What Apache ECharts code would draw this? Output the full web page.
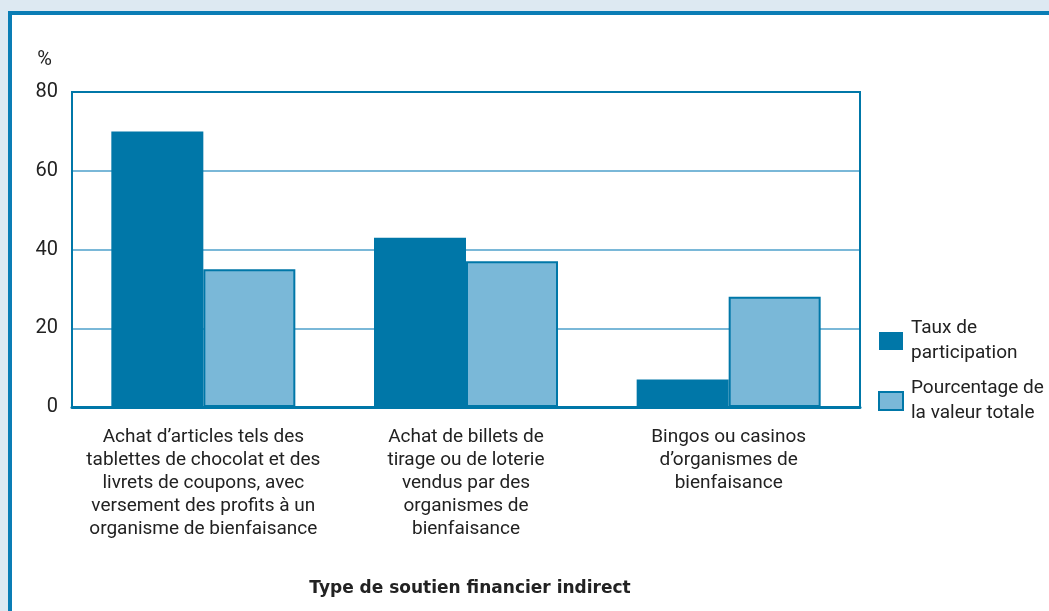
<!DOCTYPE html>
<html>
<head>
<meta charset="utf-8">
<script src="https://cdn.jsdelivr.net/npm/echarts@6/dist/echarts.min.js"></script>
<style>
  html, body { margin: 0; padding: 0; background: #dde9f2; }
  #chart { width: 1049px; height: 611px; }
</style>
</head>
<body>
<div id="chart"></div>
<script>
var categories = [
    'Achat d\u2019articles tels des\ntablettes de chocolat et des\nlivrets de coupons, avec\nversement des profits \u00e0 un\norganisme de bienfaisance',
    'Achat de billets de\ntirage ou de loterie\nvendus par des\norganismes de\nbienfaisance',
    'Bingos ou casinos\nd\u2019organismes de\nbienfaisance'
];
var seriesNames = ['Taux de\nparticipation', 'Pourcentage de\nla valeur totale'];
var participation = [70, 43, 7];
var valeurTotale = [35, 37, 28];
var yTicks = [0, 20, 40, 60, 80];

var font = 'Roboto, "Liberation Sans", sans-serif';
var dark = '#0077a8';
var light = '#7ab8d8';

var myChart = echarts.init(document.getElementById('chart'));

myChart.setOption({
    backgroundColor: '#dde9f2',
    animation: false,
    graphic: [
        {
            // cadre blanc avec bordure bleue
            type: 'rect',
            z: -10,
            shape: { x: 10, y: 13, width: 1060, height: 620 },
            style: { fill: '#ffffff', stroke: '#0a7db5', lineWidth: 4 }
        },
        {
            // bordure de la zone de tracé
            type: 'rect',
            z: 10,
            shape: { x: 72, y: 92, width: 1049 - 72 - 189, height: 611 - 92 - 204 },
            style: { fill: 'none', stroke: dark, lineWidth: 2 }
        }
    ],
    grid: { left: 72, top: 92, right: 189, bottom: 204 },
    legend: {
        orient: 'vertical',
        left: 873,
        top: 311,
        icon: 'rect',
        itemWidth: 24,
        itemHeight: 18,
        itemGap: 10,
        textStyle: { fontFamily: font, fontSize: 19, color: '#222', lineHeight: 25, padding: [0, 0, 0, 3] },
        data: seriesNames
    },
    xAxis: {
        type: 'category',
        data: categories,
        name: 'Type de soutien financier indirect',
        nameLocation: 'middle',
        nameGap: 173,
        nameTextStyle: { fontFamily: '"DejaVu Sans", sans-serif', fontSize: 17, fontWeight: 'bold', color: '#222', padding: [0, 0, 0, 8] },
        axisLine: { lineStyle: { color: dark, width: 3 } },
        axisTick: { show: false },
        axisLabel: {
            margin: 19,
            interval: 0,
            fontFamily: font,
            fontSize: 19,
            lineHeight: 23,
            color: '#222',
            align: 'center'
        }
    },
    yAxis: {
        type: 'value',
        min: yTicks[0],
        max: yTicks[yTicks.length - 1],
        interval: 20,
        name: '%',
        nameGap: 22,
        nameTextStyle: { fontFamily: font, fontSize: 20, color: '#222', align: 'right', padding: [0, 20, 0, 0] },
        axisLine: { show: true, lineStyle: { color: dark, width: 2 } },
        axisTick: { show: false },
        axisLabel: { margin: 14, fontFamily: font, fontSize: 20, color: '#222' },
        splitLine: { lineStyle: { color: light, width: 2 } }
    },
    series: [
        {
            name: seriesNames[0],
            type: 'bar',
            barWidth: 92,
            barGap: 0,
            data: participation,
            itemStyle: { color: dark }
        },
        {
            name: seriesNames[1],
            type: 'bar',
            barWidth: 92,
            barGap: 0,
            data: valeurTotale,
            itemStyle: { color: light, borderColor: dark, borderWidth: 2 }
        }
    ]
});
</script>
</body>
</html>
